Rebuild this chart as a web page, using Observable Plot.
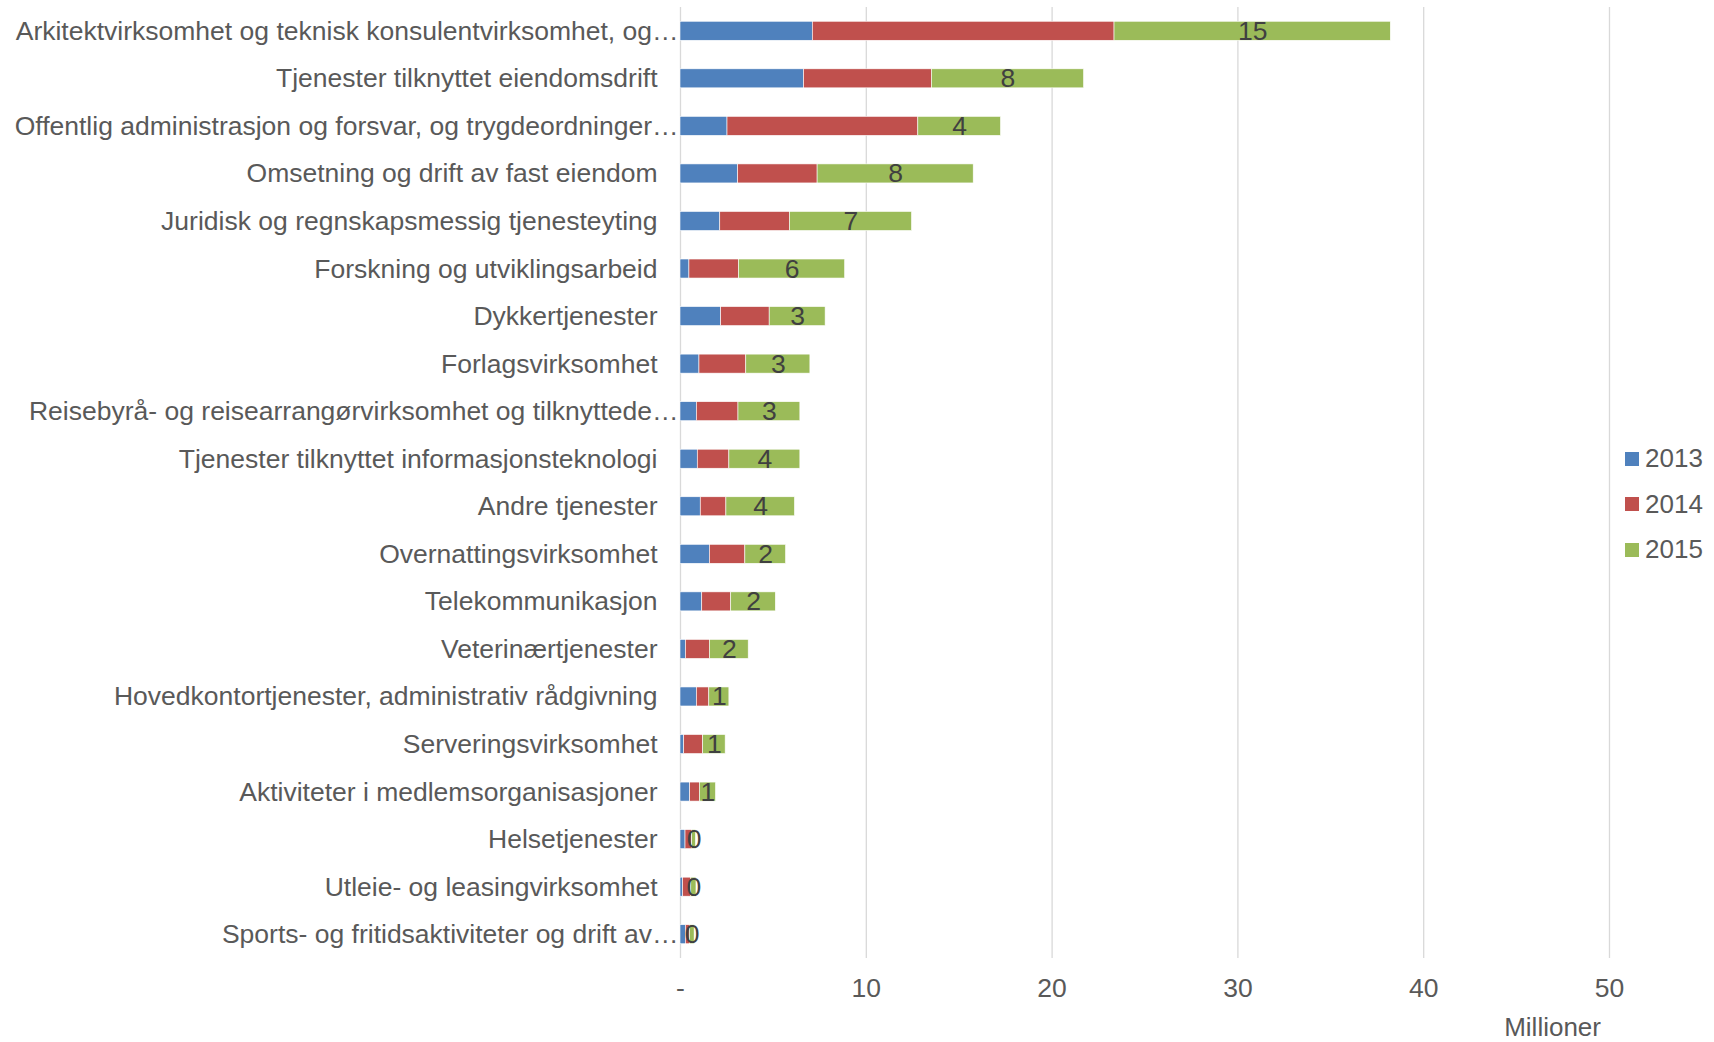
<!DOCTYPE html>
<html>
<head>
<meta charset="utf-8">
<script src="https://cdn.jsdelivr.net/npm/d3@7"></script>
<script src="https://cdn.jsdelivr.net/npm/@observablehq/plot@0.6"></script>
<style>
  html, body { margin: 0; padding: 0; background: #fff; }
  #wrap { position: relative; width: 1714px; height: 1042px; font-family: "Liberation Sans", Arial, sans-serif; }
  #legend { position: absolute; left: 1625px; top: 436px; color: #595959; font-size: 26px; }
  #legend .item { display: flex; align-items: center; height: 45.5px; }
  #legend .sw { width: 14px; height: 14px; margin-right: 6px; }
  #unit { position: absolute; right: 113px; top: 1012px; color: #595959; font-size: 26px; line-height: 30px; }
</style>
</head>
<body>
<div id="wrap"><div id="legend"></div><div id="unit"></div></div>
<script>
const categories = [
  "Arkitektvirksomhet og teknisk konsulentvirksomhet, og…",
  "Tjenester tilknyttet eiendomsdrift",
  "Offentlig administrasjon og forsvar, og trygdeordninger…",
  "Omsetning og drift av fast eiendom",
  "Juridisk og regnskapsmessig tjenesteyting",
  "Forskning og utviklingsarbeid",
  "Dykkertjenester",
  "Forlagsvirksomhet",
  "Reisebyrå- og reisearrangørvirksomhet og tilknyttede…",
  "Tjenester tilknyttet informasjonsteknologi",
  "Andre tjenester",
  "Overnattingsvirksomhet",
  "Telekommunikasjon",
  "Veterinærtjenester",
  "Hovedkontortjenester, administrativ rådgivning",
  "Serveringsvirksomhet",
  "Aktiviteter i medlemsorganisasjoner",
  "Helsetjenester",
  "Utleie- og leasingvirksomhet",
  "Sports- og fritidsaktiviteter og drift av…"
];
const years = ["2013", "2014", "2015"];
const v2013 = [7.12, 6.65, 2.53, 3.10, 2.14, 0.48, 2.19, 1.02, 0.88, 0.93, 1.09, 1.58, 1.17, 0.29, 0.88, 0.20, 0.52, 0.27, 0.14, 0.29];
const v2014 = [16.24, 6.88, 10.27, 4.28, 3.75, 2.67, 2.61, 2.52, 2.24, 1.70, 1.38, 1.91, 1.56, 1.29, 0.67, 1.02, 0.52, 0.36, 0.44, 0.21];
const v2015 = [14.87, 8.19, 4.45, 8.40, 6.57, 5.71, 3.01, 3.45, 3.33, 3.82, 3.69, 2.19, 2.40, 2.09, 1.08, 1.21, 0.87, 0.20, 0.28, 0.26];
const xTicks = [0, 10, 20, 30, 40, 50];
const xUnit = "Millioner";
const colors = ["#4f81bd", "#c0504d", "#9bbb59"];

const series = [v2013, v2014, v2015];
const data = [];
categories.forEach((c, i) => {
  years.forEach((y, j) => data.push({cat: c, year: y, value: series[j][i]}));
});
const truncated = categories.filter(c => c.endsWith("…"));
const normal = categories.filter(c => !c.endsWith("…"));

const font = "'Liberation Sans', Arial, sans-serif";
const chart = Plot.plot({
  width: 1714,
  height: 1042,
  marginLeft: 680,
  marginRight: 105,
  marginTop: 7,
  marginBottom: 84,
  style: {fontFamily: font, fontSize: "26.5px", color: "#595959", background: "white"},
  x: {domain: [0, 50], axis: null},
  y: {domain: categories, paddingInner: 0.6, paddingOuter: 0.3, round: false, axis: null},
  color: {domain: years, range: colors},
  marks: [
    Plot.gridX(xTicks, {stroke: "#d9d9d9", strokeOpacity: 1, strokeWidth: 1.3}),
    Plot.barX(data, Plot.stackX({x: "value", y: "cat", fill: "year", order: years, stroke: "white", strokeWidth: 0.6})),
    Plot.text(data, Plot.stackX({
      x: "value", y: "cat", z: "year", order: years,
      text: d => d.year === "2015" ? d3.format(".0f")(d.value) : "",
      fill: "#404040", fontSize: 26.5
    })),
    Plot.axisX(xTicks, {
      tickSize: 0, tickPadding: 20, fontSize: 26.5, fill: "#595959",
      tickFormat: d => d === 0 ? "-" : d,
      label: null
    }),
    Plot.axisY(normal, {tickSize: 0, tickPadding: 23, fontSize: 26.5, fill: "#595959", label: null}),
    Plot.axisY(truncated, {tickSize: 0, tickPadding: 2, fontSize: 26.5, fill: "#595959", label: null})
  ]
});
document.getElementById("wrap").appendChild(chart);
document.getElementById("unit").textContent = xUnit;

const legend = document.getElementById("legend");
years.forEach((y, i) => {
  const item = document.createElement("div");
  item.className = "item";
  const sw = document.createElement("div");
  sw.className = "sw";
  sw.style.background = colors[i];
  const t = document.createElement("span");
  t.textContent = y;
  item.appendChild(sw);
  item.appendChild(t);
  legend.appendChild(item);
});
</script>
</body>
</html>
